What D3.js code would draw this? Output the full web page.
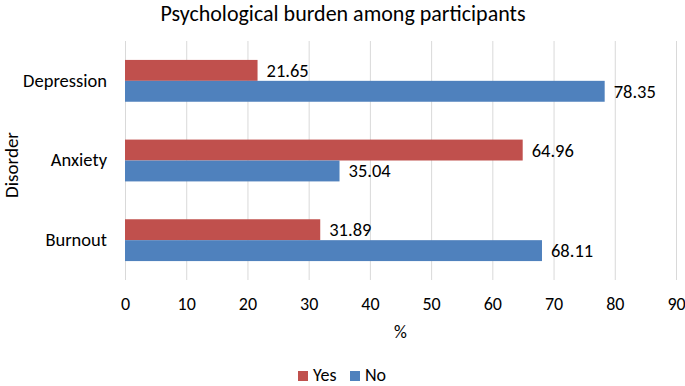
<!DOCTYPE html>
<html>
<head>
<meta charset="utf-8">
<script src="https://cdn.jsdelivr.net/npm/d3@7"></script>
<style>
  body { margin: 0; background: #fff; }
  text { font-family: Carlito, Calibri, "Noto Sans", sans-serif; fill: #000; }
</style>
</head>
<body>
<div id="chart"></div>
<script>
const categories = ["Depression", "Anxiety", "Burnout"];
const series = ["Yes", "No"];
const yesValues = [21.65, 64.96, 31.89];
const noValues = [78.35, 35.04, 68.11];
const xTicks = [0, 10, 20, 30, 40, 50, 60, 70, 80, 90];
const colors = ["#C0504D", "#4F81BD"];

const width = 685;
const height = 386;
const margin = { top: 41, right: 9, bottom: 106, left: 125 };
const font = "Carlito, Calibri, 'Noto Sans', sans-serif";

const svg = d3.select("#chart")
  .append("svg")
  .attr("width", width)
  .attr("height", height);

const x = d3.scaleLinear()
  .domain([0, 90])
  .range([margin.left, width - margin.right]);

const y = d3.scaleBand()
  .domain(categories)
  .range([margin.top, height - margin.bottom])
  .paddingInner(0.475)
  .paddingOuter(0.2375);

const ySub = d3.scaleBand()
  .domain(series)
  .range([0, y.bandwidth()]);

// grid
svg.append("g")
  .selectAll("line")
  .data(xTicks)
  .join("line")
  .attr("x1", d => x(d) + 0.5)
  .attr("x2", d => x(d) + 0.5)
  .attr("y1", margin.top)
  .attr("y2", height - margin.bottom)
  .attr("stroke", "#d9d9d9")
  .attr("stroke-width", 1);

const rows = categories.map((c, i) => [
  { cat: c, s: "Yes", v: yesValues[i], color: colors[0] },
  { cat: c, s: "No", v: noValues[i], color: colors[1] }
]).flat();

svg.append("g")
  .selectAll("rect")
  .data(rows)
  .join("rect")
  .attr("x", x(0))
  .attr("y", d => y(d.cat) + ySub(d.s))
  .attr("width", d => x(d.v) - x(0))
  .attr("height", ySub.bandwidth())
  .attr("fill", d => d.color);

svg.append("g")
  .selectAll("text")
  .data(rows)
  .join("text")
  .attr("x", d => x(d.v) + 9)
  .attr("y", d => y(d.cat) + ySub(d.s) + ySub.bandwidth() / 2)
  .attr("dy", "0.35em")
  .style("font-size", "18.5px")
  .text(d => d.v.toFixed(2));

// x axis labels
const xAxis = d3.axisBottom(x)
  .tickValues(xTicks)
  .tickSize(0)
  .tickPadding(17);

svg.append("g")
  .attr("transform", `translate(0,${height - margin.bottom})`)
  .call(xAxis)
  .call(g => g.select(".domain").remove())
  .selectAll("text")
  .style("font-size", "18px")
  .style("font-family", font);

// y axis labels
const yAxis = d3.axisLeft(y).tickSize(0).tickPadding(18);
svg.append("g")
  .attr("transform", `translate(${margin.left},0)`)
  .call(yAxis)
  .call(g => g.select(".domain").remove())
  .selectAll("text")
  .style("font-size", "18.5px")
  .style("font-family", font);

// title
svg.append("text")
  .attr("x", 343)
  .attr("y", 21)
  .attr("text-anchor", "middle")
  .style("font-size", "22px")
  .text("Psychological burden among participants");

// axis titles
svg.append("text")
  .attr("x", x(45))
  .attr("y", 338)
  .attr("text-anchor", "middle")
  .style("font-size", "18px")
  .text("%");

svg.append("text")
  .attr("transform", "translate(18,165) rotate(-90)")
  .attr("text-anchor", "middle")
  .style("font-size", "19px")
  .text("Disorder");

// legend
const legend = svg.append("g").attr("transform", "translate(298,371)");
const items = legend.selectAll("g")
  .data(series)
  .join("g")
  .attr("transform", (d, i) => `translate(${i * 52},0)`);
items.append("rect")
  .attr("width", 10)
  .attr("height", 10)
  .attr("fill", (d, i) => colors[i]);
items.append("text")
  .attr("x", 15)
  .attr("y", 10)
  .style("font-size", "18px")
  .text(d => d);
</script>
</body>
</html>
